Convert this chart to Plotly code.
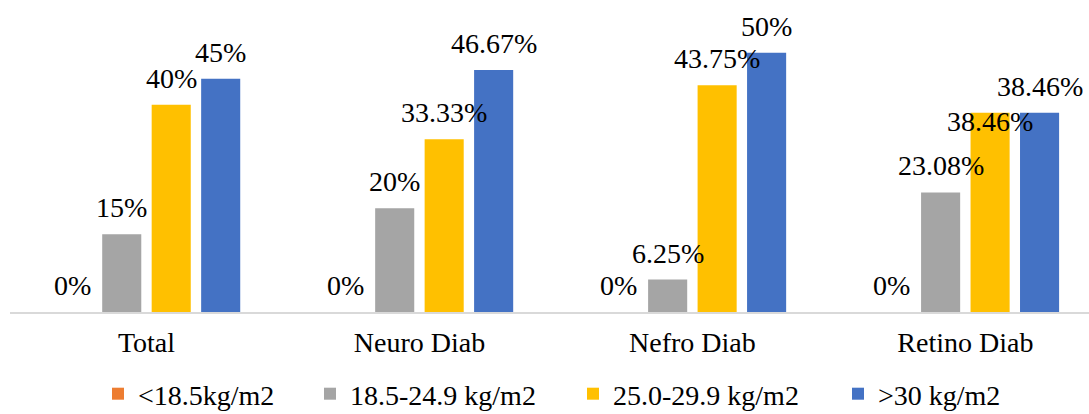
import plotly.graph_objects as go

# Complication groups and BMI classes
groups = ["Total", "Neuro Diab", "Nefro Diab", "Retino Diab"]
bmi_classes = ["<18.5kg/m2", "18.5-24.9 kg/m2", "25.0-29.9 kg/m2", ">30 kg/m2"]

# Percentage of patients per BMI class in each group
under = [0, 0, 0, 0]
normal = [15, 20, 6.25, 23.08]
over = [40, 33.33, 43.75, 38.46]
obese = [45, 46.67, 50, 38.46]

series = [under, normal, over, obese]
colors = ["#ED7D31", "#A5A5A5", "#FFC000", "#4472C4"]

FONT = "Liberation Serif, Times New Roman, serif"
FS = 28
W, H = 1089, 414
BARGAP = 0.275
n = len(series)

# legend square centres (px) for each class
legend_px = [120, 332, 595, 860]

fig = go.Figure()
for j, (name, vals, col) in enumerate(zip(bmi_classes, series, colors)):
    fig.add_trace(go.Bar(
        x=groups, y=vals, name=name,
        marker=dict(color=col, line=dict(width=0)),
        legend="legend" if j == 0 else f"legend{j+1}",
        hoverinfo="skip",
    ))

# value labels, drawn above every bar (on top of neighbouring bars)
slot = (1 - BARGAP) / n

def fmt(v):
    return f"{v:g}%"

annotations = []
for j, vals in enumerate(series):
    for i, v in enumerate(vals):
        shift = 9
        # a label that would collide with the next bar's identical label drops below it
        if j + 1 < n and series[j + 1][i] == v and v > 0:
            shift = -26
        annotations.append(dict(
            x=i + (j - (n - 1) / 2) * slot, y=v,
            xref="x", yref="y",
            text=fmt(v), showarrow=False,
            xanchor="center", yanchor="bottom", yshift=shift,
            font=dict(family=FONT, size=FS, color="black"),
        ))

layout_legends = {}
for j in range(n):
    key = "legend" if j == 0 else f"legend{j+1}"
    layout_legends[key] = dict(
        xref="container", yref="container",
        x=(legend_px[j] - 22) / W, xanchor="left",
        y=1 - 369 / H, yanchor="top",
        orientation="h",
        font=dict(family=FONT, size=FS, color="black"),
        bgcolor="rgba(0,0,0,0)",
    )

fig.update_layout(
    width=W, height=H,
    margin=dict(l=10, r=0, t=0, b=102),
    paper_bgcolor="white", plot_bgcolor="white",
    barmode="group", bargap=BARGAP, bargroupgap=0.21,
    annotations=annotations,
    font=dict(family=FONT, size=FS, color="black"),
    showlegend=True,
    **layout_legends,
)
fig.update_xaxes(
    range=[-0.5, 3.453],
    showline=True, linecolor="#D9D9D9", linewidth=1.5,
    showgrid=False, ticks="", ticklabelstandoff=5,
    tickfont=dict(family=FONT, size=FS, color="black"),
)
fig.update_yaxes(range=[0, 60.2], visible=False, showgrid=False)

fig.write_html("out.html")
